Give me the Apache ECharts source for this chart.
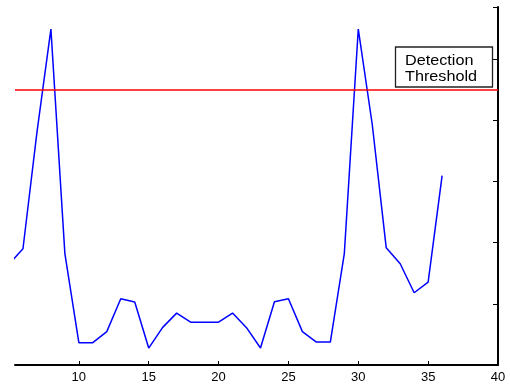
<!DOCTYPE html>
<html>
<head>
<meta charset="utf-8">
<script src="https://cdn.jsdelivr.net/npm/echarts@6/dist/echarts.min.js"></script>
<style>html,body{margin:0;padding:0;background:#fff;}#c{width:510px;height:384px;}</style>
</head>
<body>
<div id="c"></div>
<script>
var xValues = [5,6,7,8,9,10,11,12,13,14,15,16,17,18,19,20,21,22,23,24,25,26,27,28,29,30,31,32,33,34,35,36];
var signal = [1.65,1.90,3.80,5.49,1.82,0.365,0.365,0.545,1.083,1.028,0.277,0.615,0.848,0.70,0.70,0.70,0.848,0.61,0.277,1.034,1.083,0.545,0.375,0.375,1.82,5.49,3.93,1.915,1.654,1.181,1.354,3.095];
var threshold = 4.49;
var xTicks = [10,15,20,25,30,35,40];
var legendText = ['Detection', 'Threshold'];

var chart = echarts.init(document.getElementById('c'), null, {renderer: 'canvas'});
var data = xValues.map(function (x, i) { return [x, signal[i]]; });
chart.setOption({
  animation: false,
  backgroundColor: '#ffffff',
  grid: {left: 15, right: 12, top: 7, bottom: 18, containLabel: false},
  xAxis: {
    type: 'value', min: 5.43, max: 40,
    axisLine: {show: true, onZero: false, lineStyle: {color: '#000', width: 2}},
    axisTick: {show: true, inside: true, length: 4, customValues: xTicks, lineStyle: {color: '#000'}},
    axisLabel: {show: true, customValues: xTicks, color: '#000', fontSize: 13, fontFamily: 'Liberation Sans, Arial, sans-serif', margin: 6},
    splitLine: {show: false}
  },
  yAxis: {
    type: 'value', position: 'right', min: 0, max: 5.85, interval: 1,
    axisLine: {show: true, lineStyle: {color: '#000', width: 2}},
    axisTick: {show: true, inside: true, length: 5, lineStyle: {color: '#000'}},
    axisLabel: {show: false},
    splitLine: {show: false}
  },
  series: [{
    type: 'line',
    data: data,
    showSymbol: false,
    symbol: 'none',
    clip: true,
    lineStyle: {color: '#0000ff', width: 1.5},
    markLine: {
      silent: true,
      symbol: ['none', 'none'],
      label: {show: false},
      lineStyle: {color: '#ff0000', width: 1.5, type: 'solid'},
      data: [{yAxis: threshold}]
    }
  }],
  graphic: [
    {type: 'rect', shape: {x: 395.5, y: 47, width: 97, height: 40}, style: {fill: '#fff', stroke: '#222', lineWidth: 1.3}, z: 100},
    {type: 'text', x: 405, y: 53, scaleX: 1.08, style: {text: legendText.join('\n'), font: '15px "Liberation Sans", Arial, sans-serif', fill: '#000', lineHeight: 16}, z: 101}
  ]
});
</script>
</body>
</html>
